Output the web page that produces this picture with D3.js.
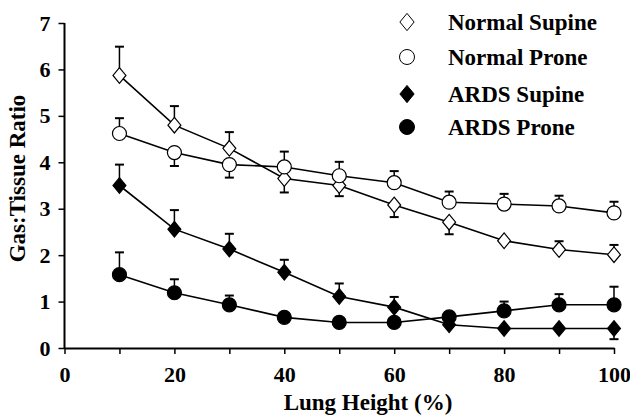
<!DOCTYPE html>
<html>
<head>
<meta charset="utf-8">
<script src="https://cdn.jsdelivr.net/npm/d3@7"></script>
<style>
  body { margin: 0; background: #fff; }
  text { font-family: "Liberation Serif", "Times New Roman", serif; font-weight: bold; fill: #000; }
</style>
</head>
<body>
<div id="chart"></div>
<script>
// lung height (%) along the x axis
var heights = [10, 20, 30, 40, 50, 60, 70, 80, 90, 100];

// mean gas:tissue ratio per series
var normalSupine = [5.87, 4.80, 4.30, 3.65, 3.50, 3.08, 2.71, 2.31, 2.12, 2.01];
var normalProne  = [4.62, 4.21, 3.95, 3.90, 3.71, 3.56, 3.14, 3.10, 3.06, 2.91];
var ardsSupine   = [3.50, 2.56, 2.13, 1.63, 1.11, 0.88, 0.50, 0.42, 0.42, 0.42];
var ardsProne    = [1.58, 1.19, 0.93, 0.66, 0.55, 0.55, 0.67, 0.80, 0.93, 0.93];

// error bars (positive = drawn up, negative = drawn down, 0 = none visible)
var normalSupineErr = [0.62, 0.41, 0.35, -0.30, -0.23, -0.26, -0.26, 0, 0.18, 0.21];
var normalProneErr  = [0.33, -0.29, -0.28, 0.33, 0.30, 0.25, 0.23, 0.22, 0.22, 0.24];
var ardsSupineErr   = [0.45, 0.41, 0.33, 0.27, 0.28, 0.22, 0, 0, 0, -0.23];
var ardsProneErr    = [0.48, 0.29, 0.20, 0, 0, 0, 0, 0.20, 0.23, 0.39];

var seriesNames = ["Normal Supine", "Normal Prone", "ARDS Supine", "ARDS Prone"];
var xTicks = [0, 10, 20, 30, 40, 50, 60, 70, 80, 90, 100];
var yTicks = [0, 1, 2, 3, 4, 5, 6, 7];

var series = [
    { name: seriesNames[0], values: normalSupine, err: normalSupineErr, shape: "diamond", fill: "#fff" },
    { name: seriesNames[1], values: normalProne,  err: normalProneErr,  shape: "circle",  fill: "#fff" },
    { name: seriesNames[2], values: ardsSupine,   err: ardsSupineErr,   shape: "diamond", fill: "#000" },
    { name: seriesNames[3], values: ardsProne,    err: ardsProneErr,    shape: "circle",  fill: "#000" }
];

var svgWidth = 630, svgHeight = 416;
var margin = { top: 23, right: 16, bottom: 68, left: 64.5 };
var chartWidth = 614 - margin.left;
var chartHeight = 348 - margin.top;

var svg = d3.select("#chart")
    .append("svg")
    .attr("width", svgWidth)
    .attr("height", svgHeight);

var chartGroup = svg.append("g")
    .attr("transform", `translate(${margin.left}, ${margin.top})`);

var x = d3.scaleLinear().domain([0, 100]).range([0, chartWidth]);
var y = d3.scaleLinear().domain([0, 7]).range([chartHeight, 0]);

// axes
var bottomAxis = d3.axisBottom(x)
    .tickValues(xTicks)
    .tickSize(6)
    .tickPadding(12)
    .tickSizeOuter(0)
    .tickFormat(d => d % 20 === 0 ? d : "");

var leftAxis = d3.axisLeft(y)
    .tickValues(yTicks)
    .tickSize(6)
    .tickPadding(8)
    .tickSizeOuter(0)
    .tickFormat(d3.format("d"));

var xAxisG = chartGroup.append("g")
    .attr("transform", `translate(0, ${chartHeight})`)
    .call(bottomAxis);

var yAxisG = chartGroup.append("g").call(leftAxis);

[xAxisG, yAxisG].forEach(function(g) {
    g.select(".domain").attr("stroke", "#000").attr("stroke-width", 2);
    g.selectAll(".tick line").attr("stroke", "#000").attr("stroke-width", 1.5);
    g.selectAll(".tick text")
        .attr("font-family", "Liberation Serif")
        .attr("font-weight", "bold")
        .attr("font-size", "22px")
        .attr("fill", "#000");
});

// extend y domain line down to meet the x axis
yAxisG.select(".domain").attr("d", `M0,${chartHeight + 1}V0`);

// marker shape helper
function marker(sel, shape, size) {
    if (shape === "diamond") {
        var w = size * 0.95, h = size * 1.15;
        sel.append("path").attr("d", `M0,${-h}L${w},0L0,${h}L${-w},0Z`);
    } else {
        sel.append("circle").attr("r", size);
    }
}

var line = d3.line()
    .x((d, i) => x(heights[i]))
    .y(d => y(d));

// lines
series.forEach(function(s) {
    chartGroup.append("path")
        .datum(s.values)
        .attr("d", line)
        .attr("fill", "none")
        .attr("stroke", "#000")
        .attr("stroke-width", 1.6);
});

// error bars
series.forEach(function(s) {
    var bars = chartGroup.selectAll(null)
        .data(s.values.map((v, i) => ({ x: heights[i], v: v, e: s.err[i] })).filter(d => d.e !== 0))
        .enter()
        .append("g");
    bars.append("line")
        .attr("x1", d => x(d.x)).attr("x2", d => x(d.x))
        .attr("y1", d => y(d.v)).attr("y2", d => y(d.v + d.e))
        .attr("stroke", "#000").attr("stroke-width", 1.5);
    bars.append("line")
        .attr("x1", d => x(d.x) - 4.5).attr("x2", d => x(d.x) + 4.5)
        .attr("y1", d => y(d.v + d.e)).attr("y2", d => y(d.v + d.e))
        .attr("stroke", "#000").attr("stroke-width", 2);
});

// markers
series.forEach(function(s) {
    var pts = chartGroup.selectAll(null)
        .data(s.values)
        .enter()
        .append("g")
        .attr("transform", (d, i) => `translate(${x(heights[i])}, ${y(d)})`);
    marker(pts, s.shape, s.shape === "diamond" ? 6.8 : 7);
    pts.selectAll("path, circle")
        .attr("fill", s.fill)
        .attr("stroke", "#000")
        .attr("stroke-width", 1.2);
});

// legend
var legendRows = [22, 57, 94, 127];
var legend = svg.selectAll(".legend")
    .data(series)
    .enter()
    .append("g")
    .attr("class", "legend")
    .attr("transform", (d, i) => `translate(407, ${legendRows[i]})`);

legend.each(function(d) {
    var g = d3.select(this);
    marker(g, d.shape, 7.5);
    g.selectAll("path, circle")
        .attr("fill", d.fill)
        .attr("stroke", "#000")
        .attr("stroke-width", 1);
});

legend.append("text")
    .attr("x", 41)
    .attr("y", 7.5)
    .attr("font-size", "23px")
    .text(d => d.name);

// axis titles
svg.append("text")
    .attr("x", 368)
    .attr("y", 410)
    .attr("text-anchor", "middle")
    .attr("font-size", "23px")
    .text("Lung Height (%)");

svg.append("text")
    .attr("transform", "translate(25, 178.5) rotate(-90)")
    .attr("text-anchor", "middle")
    .attr("font-size", "23px")
    .text("Gas:Tissue Ratio");
</script>
</body>
</html>
